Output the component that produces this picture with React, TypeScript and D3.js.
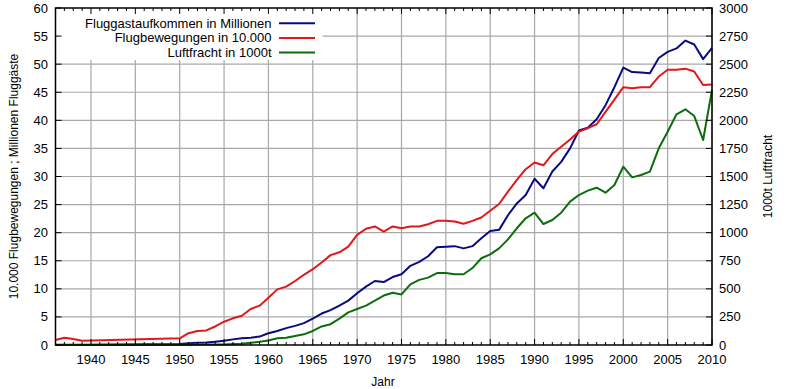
import React from 'react';
import { scaleLinear, line, range } from 'd3';

const years = [1936, 1937, 1938, 1939, 1950, 1951, 1952, 1953, 1954, 1955, 1956, 1957, 1958, 1959,
  1960, 1961, 1962, 1963, 1964, 1965, 1966, 1967, 1968, 1969, 1970, 1971, 1972, 1973, 1974, 1975,
  1976, 1977, 1978, 1979, 1980, 1981, 1982, 1983, 1984, 1985, 1986, 1987, 1988, 1989, 1990, 1991,
  1992, 1993, 1994, 1995, 1996, 1997, 1998, 1999, 2000, 2001, 2002, 2003, 2004, 2005, 2006, 2007,
  2008, 2009, 2010];

// Fluggastaufkommen in Millionen
const passengers = [0.05, 0.05, 0.05, 0.05, 0.2, 0.3, 0.4, 0.45, 0.6, 0.77, 1.0, 1.2, 1.3, 1.5,
  2.1, 2.5, 3.0, 3.4, 3.9, 4.7, 5.6, 6.2, 7.0, 7.9, 9.2, 10.4, 11.4, 11.2, 12.1, 12.6,
  14.1, 14.8, 15.8, 17.4, 17.5, 17.6, 17.2, 17.6, 19.0, 20.3, 20.5, 23.1, 25.2, 26.7, 29.6, 27.9,
  30.9, 32.6, 35.0, 38.2, 38.7, 40.2, 42.7, 45.9, 49.4, 48.6, 48.5, 48.4, 51.1, 52.2, 52.8, 54.2,
  53.5, 50.9, 52.9];

// Flugbewegungen in 10.000
const movements = [0.9, 1.3, 1.05, 0.75, 1.2, 2.1, 2.5, 2.6, 3.3, 4.15, 4.75, 5.2, 6.4, 7.0,
  8.4, 9.9, 10.4, 11.4, 12.5, 13.5, 14.7, 16.0, 16.5, 17.5, 19.6, 20.7, 21.1, 20.2, 21.1, 20.8,
  21.1, 21.1, 21.5, 22.1, 22.1, 22.0, 21.6, 22.1, 22.7, 23.9, 25.1, 27.3, 29.4, 31.3, 32.5, 32.0,
  34.0, 35.3, 36.6, 38.0, 38.6, 39.3, 41.5, 43.7, 45.9, 45.7, 45.9, 45.9, 47.8, 49.0, 49.0, 49.2,
  48.7, 46.3, 46.4];

// Luftfracht in 1000t
const freight = [0, 0, 0, 0, 2, 3, 4, 5, 5, 5, 8, 12, 20, 28,
  40, 60, 65, 80, 95, 125, 165, 185, 235, 290, 320, 350, 395, 440, 465, 450,
  540, 580, 600, 640, 640, 630, 630, 685, 772, 807, 860, 940, 1039, 1128, 1178, 1077,
  1113, 1178, 1276, 1335, 1374, 1400, 1356, 1424, 1587, 1492, 1513, 1543, 1751, 1899, 2054, 2098,
  2038, 1825, 2270];

const leftTicks = range(0, 61, 5);
const rightTicks = range(0, 3001, 250);
const yearTicks = range(1940, 2011, 5);
const minorYears = range(1936, 2011, 1);

const seriesNames = ['Fluggastaufkommen in Millionen', 'Flugbewegungen in 10.000', 'Luftfracht in 1000t'];
const colors = ['#0a0a80', '#e01818', '#0b6e0b'];

const W = 787;
const H = 389;
const left = 55.5;
const right = 712;
const top = 8;
const bottom = 345;
const font = 'Liberation Sans, Arial, sans-serif';

export default function App() {
  const x = scaleLinear().domain([1936, 2010]).range([left, right]);
  const y = scaleLinear().domain([0, 60]).range([bottom, top]);
  const y2 = scaleLinear().domain([0, 3000]).range([bottom, top]);

  const mk = (vals: number[], sc: any) =>
    line<number>().x((_, i) => x(years[i])).y(d => sc(d))(vals) || '';

  const paths = [mk(passengers, y), mk(movements, y), mk(freight, y2)];

  return (
    <svg width={W} height={H} style={{ position: 'absolute', left: 0, top: 0, background: '#fff' }}
      fontFamily={font}>
      <rect x={0} y={0} width={W} height={H} fill="#fff" />
      {/* grid */}
      {yearTicks.map(t => (
        <line key={'gx' + t} x1={x(t)} x2={x(t)} y1={top} y2={bottom} stroke="#a8a8a8" strokeWidth={1.2} />
      ))}
      {leftTicks.slice(1, -1).map(t => (
        <line key={'gy' + t} x1={left} x2={right} y1={y(t)} y2={y(t)} stroke="#a8a8a8" strokeWidth={1.2} />
      ))}
      {/* legend background */}
      <rect x={left + 1} y={top + 1} width={266} height={51} fill="#fff" />
      {/* series */}
      {paths.map((p, i) => (
        <path key={i} d={p} fill="none" stroke={colors[i]} strokeWidth={2} strokeLinejoin="round" />
      ))}
      {/* ticks */}
      {minorYears.map(t => {
        const major = t % 5 === 0;
        const len = major ? 6 : 3;
        return (
          <g key={'t' + t}>
            <line x1={x(t)} x2={x(t)} y1={bottom} y2={bottom - len} stroke="#000" strokeWidth={1} />
            <line x1={x(t)} x2={x(t)} y1={top} y2={top + len} stroke="#000" strokeWidth={1} />
          </g>
        );
      })}
      {leftTicks.map(t => (
        <line key={'lt' + t} x1={left} x2={left + 6} y1={y(t)} y2={y(t)} stroke="#000" strokeWidth={1} />
      ))}
      {rightTicks.map(t => (
        <line key={'rt' + t} x1={right} x2={right - 6} y1={y2(t)} y2={y2(t)} stroke="#000" strokeWidth={1} />
      ))}
      {/* frame */}
      <rect x={left} y={top} width={right - left} height={bottom - top} fill="none" stroke="#000" strokeWidth={1.5} />
      {/* tick labels */}
      {leftTicks.map(t => (
        <text key={'ll' + t} x={48} y={y(t)} dy="0.35em" textAnchor="end" fontSize={13}>{t}</text>
      ))}
      {rightTicks.map(t => (
        <text key={'rl' + t} x={719} y={y2(t)} dy="0.35em" textAnchor="start" fontSize={13}>{t}</text>
      ))}
      {yearTicks.map(t => (
        <text key={'xl' + t} x={x(t)} y={364} textAnchor="middle" fontSize={13}>{t}</text>
      ))}
      {/* axis titles */}
      <text x={383} y={386} textAnchor="middle" fontSize={12}>Jahr</text>
      <text transform={`translate(18,${(top + bottom) / 2}) rotate(-90)`} textAnchor="middle" fontSize={12}>
        10.000 Flugbewegungen ; Millionen Fluggäste
      </text>
      <text transform={`translate(772,${(top + bottom) / 2}) rotate(-90)`} textAnchor="middle" fontSize={12}>
        1000t Luftfracht
      </text>
      {/* legend */}
      {seriesNames.map((n, i) => {
        const ly = 23.3 + i * 14.6;
        return (
          <g key={n}>
            <text x={271.5} y={ly} dy="0.35em" textAnchor="end" fontSize={13}>{n}</text>
            <line x1={279} x2={315} y1={ly} y2={ly} stroke={colors[i]} strokeWidth={2} />
          </g>
        );
      })}
    </svg>
  );
}
